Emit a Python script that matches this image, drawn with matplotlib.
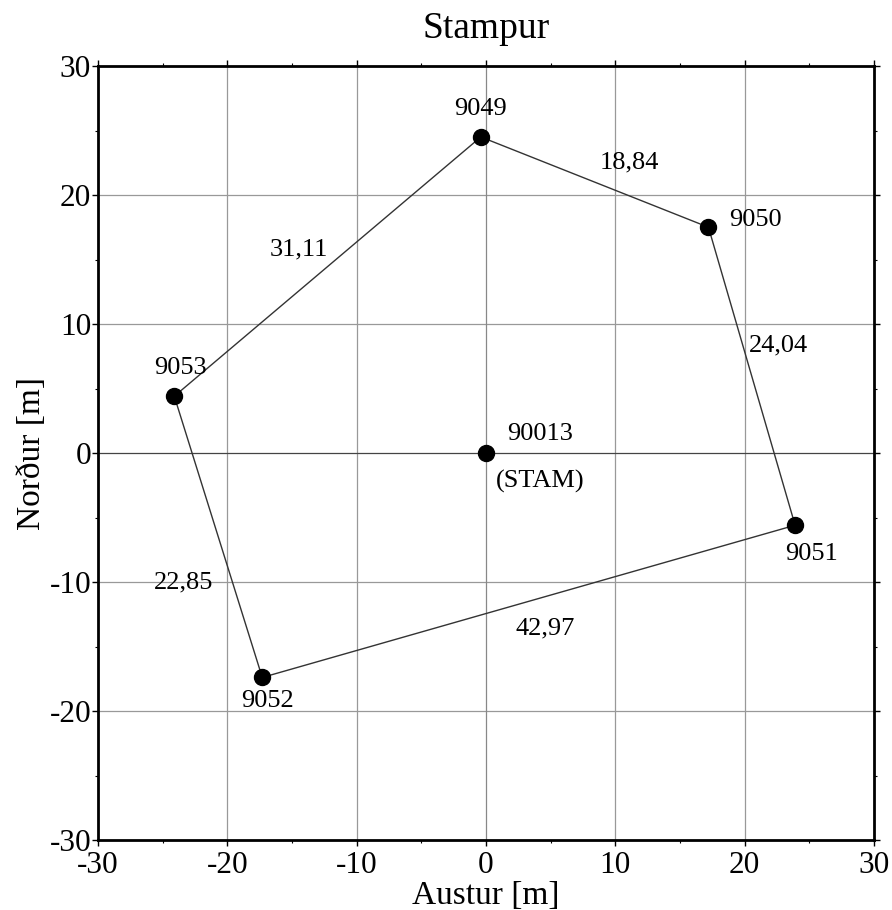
import matplotlib.pyplot as plt
from matplotlib.ticker import MultipleLocator

plt.rcParams['font.family'] = ['Liberation Serif', 'DejaVu Serif']
plt.rcParams['axes.unicode_minus'] = False

# Points (Austur, Norður) in metres
names = ["9049", "9050", "9051", "9052", "9053"]
east = [-0.4, 17.2, 23.9, -17.3, -24.1]
north = [24.5, 17.5, -5.6, -17.4, 4.4]
center_name = "90013"
center_alias = "(STAM)"
center_e, center_n = 0.0, 0.0

# Side lengths between consecutive points
sides = ["18,84", "24,04", "42,97", "22,85", "31,11"]

# label offsets (data units)
name_off = [(0.0, 2.2), (3.6, 0.6), (1.3, -2.2), (0.4, -1.8), (0.5, 2.2)]
side_pos = [(11.1, 22.5), (22.6, 8.3), (4.6, -13.6), (-23.4, -10.0), (-14.5, 15.8)]

fig = plt.figure(figsize=(8.92, 9.10), dpi=100)
ax = fig.add_axes([98 / 892, 1 - 840 / 910, 776 / 892, 774 / 910])

ax.set_xlim(-30, 30)
ax.set_ylim(-30, 30)

# grid
for v in [-20, -10, 10, 20]:
    ax.axvline(v, color='#999999', lw=0.9, zorder=0)
    ax.axhline(v, color='#999999', lw=0.9, zorder=0)
ax.axvline(0, color='#888888', lw=0.9, zorder=0)
ax.axhline(0, color='#444444', lw=0.9, zorder=0)

# polygon
ax.plot(east + [east[0]], north + [north[0]], color='#333333', lw=1.0, zorder=2)
ax.plot(east + [center_e], north + [center_n], 'o', color='black', ms=11.5, lw=0, zorder=3)

for i, n in enumerate(names):
    ax.text(east[i] + name_off[i][0], north[i] + name_off[i][1], n,
            ha='center', va='center', fontsize=19)
for s, (x, y) in zip(sides, side_pos):
    ax.text(x, y, s, ha='center', va='center', fontsize=19)

ax.text(center_e + 4.2, center_n + 1.5, center_name, ha='center', va='center', fontsize=19)
ax.text(center_e + 4.2, center_n - 2.2, center_alias, ha='center', va='center', fontsize=19)

ax.xaxis.set_major_locator(MultipleLocator(10))
ax.yaxis.set_major_locator(MultipleLocator(10))
ax.xaxis.set_minor_locator(MultipleLocator(5))
ax.yaxis.set_minor_locator(MultipleLocator(5))
ax.tick_params(which='major', direction='out', length=4, width=1, labelsize=22.5,
               top=True, right=True, pad=1)
ax.tick_params(axis='x', which='major', pad=4)
ax.tick_params(which='minor', direction='out', length=2, width=0.8, top=True, right=True)

for sp in ax.spines.values():
    sp.set_linewidth(2)

ax.set_title("Stampur", fontsize=27, pad=20)
ax.set_xlabel("Austur [m]", fontsize=24, labelpad=0)
ax.set_ylabel("Norður [m]", fontsize=24, labelpad=2)

fig.savefig("out.png", dpi=100)
